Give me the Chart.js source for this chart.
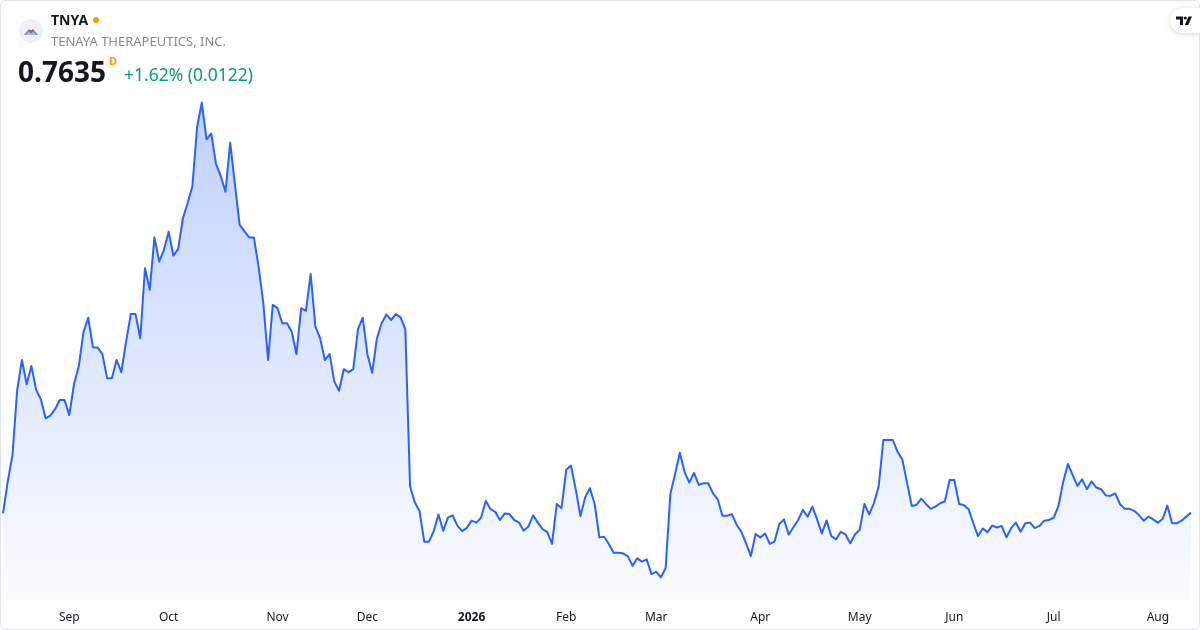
<!DOCTYPE html>
<html>
<head>
<meta charset="utf-8">
<script src="https://cdn.jsdelivr.net/npm/chart.js@4.4.1/dist/chart.umd.min.js"></script>
<style>
  html, body { margin: 0; padding: 0; background: #fff; }
  body { width: 1200px; height: 630px; position: relative; overflow: hidden; font-family: "Noto Sans", "Open Sans", sans-serif; }
  #chart { position: absolute; left: 0; top: 0; }
  .frame { position: absolute; left: 0; top: 0; width: 1198px; height: 628px; border: 1px solid #e0e3eb; border-radius: 6px; pointer-events: none; }
  .logo { position: absolute; left: 19px; top: 19px; width: 24px; height: 24px; border-radius: 50%; background: #eef1f8; }
  .ticker { position: absolute; left: 51px; top: 10px; font-size: 14px; font-weight: 700; color: #131722; }
  .dot { position: absolute; left: 93px; top: 17px; width: 6px; height: 6px; border-radius: 50%; background: #ff9800; }
  .name { position: absolute; left: 51px; top: 32px; font-size: 13px; color: #868993; }
  .price { position: absolute; left: 18px; top: 52px; font-size: 28px; font-weight: 700; color: #131722; }
  .flag { position: absolute; left: 109px; top: 53px; font-size: 11px; font-weight: 700; color: #ff9800; }
  .change { position: absolute; left: 124px; top: 62px; font-size: 17.5px; color: #089981; }
  .tv { position: absolute; right: 0; top: 8px; width: 30px; height: 25px; background: #fff; border-radius: 13px 0 0 13px; box-shadow: 0 1px 5px rgba(0,0,0,0.18); }
</style>
</head>
<body>
<canvas id="chart" width="1200" height="630"></canvas>
<div class="frame"></div>
<div class="logo">
  <svg width="24" height="24" viewBox="0 0 24 24">
    <path d="M5 16 L10 10 L12 12 L14 10 L19 16 Z" fill="#5b8fd6"/>
    <path d="M7 16 L10 12.5 L12 14.5 L14 12.5 L17 16 Z" fill="#9cc0ea"/>
    <path d="M12 14.5 L10 12 C9.4 11.2 10.2 10.3 11 10.8 L12 11.5 L13 10.8 C13.8 10.3 14.6 11.2 14 12 Z" fill="#e0443a"/>
  </svg>
</div>
<div class="ticker">TNYA</div>
<div class="dot"></div>
<div class="name">TENAYA THERAPEUTICS, INC.</div>
<div class="price">0.7635</div>
<div class="flag">D</div>
<div class="change">+1.62% (0.0122)</div>
<div class="tv">
  <svg width="30" height="25" viewBox="0 0 30 25">
    <path d="M6 8.5 H13 V17 H10 V11.5 H6 Z" fill="#131722"/>
    <circle cx="15.3" cy="10" r="1.6" fill="#131722"/>
    <path d="M18.5 8.5 H22 L18.2 17 H14.8 Z" fill="#131722"/>
  </svg>
</div>
<script>
// Daily closes, Aug 12 2025 to Aug 12 2026 (one value per trading day)
const closes = [
  0.761, 0.858, 0.939, 1.138, 1.229, 1.155, 1.211, 1.138, 1.109, 1.051,
  1.059, 1.079, 1.107, 1.107, 1.061, 1.155, 1.209, 1.314, 1.358, 1.268,
  1.267, 1.247, 1.173, 1.173, 1.229, 1.192, 1.285, 1.369, 1.369, 1.295,
  1.509, 1.443, 1.603, 1.529, 1.565, 1.620, 1.547, 1.567, 1.661, 1.707,
  1.758, 1.939, 2.014, 1.902, 1.920, 1.827, 1.790, 1.742, 1.892, 1.765,
  1.641, 1.622, 1.603, 1.603, 1.514, 1.402, 1.229, 1.397, 1.387, 1.341,
  1.341, 1.315, 1.247, 1.387, 1.379, 1.491, 1.331, 1.295, 1.229, 1.247,
  1.163, 1.135, 1.201, 1.192, 1.201, 1.323, 1.358, 1.246, 1.190, 1.295,
  1.341, 1.368, 1.351, 1.369, 1.359, 1.323, 0.844, 0.795, 0.768, 0.675,
  0.675, 0.707, 0.758, 0.708, 0.748, 0.755, 0.724, 0.707, 0.717, 0.739,
  0.733, 0.748, 0.799, 0.774, 0.766, 0.741, 0.761, 0.759, 0.741, 0.734,
  0.708, 0.721, 0.755, 0.733, 0.713, 0.704, 0.668, 0.790, 0.777, 0.894,
  0.907, 0.835, 0.753, 0.810, 0.838, 0.790, 0.688, 0.690, 0.668, 0.641,
  0.641, 0.639, 0.631, 0.601, 0.624, 0.614, 0.621, 0.576, 0.583, 0.566,
  0.594, 0.820, 0.881, 0.946, 0.888, 0.855, 0.885, 0.848, 0.853, 0.853,
  0.822, 0.804, 0.754, 0.754, 0.759, 0.726, 0.705, 0.670, 0.631, 0.698,
  0.688, 0.700, 0.668, 0.675, 0.728, 0.743, 0.697, 0.719, 0.741, 0.772,
  0.751, 0.782, 0.743, 0.700, 0.739, 0.692, 0.682, 0.705, 0.697, 0.670,
  0.697, 0.711, 0.790, 0.758, 0.792, 0.843, 0.985, 0.985, 0.985, 0.949,
  0.926, 0.855, 0.784, 0.787, 0.806, 0.790, 0.775, 0.782, 0.792, 0.798,
  0.863, 0.863, 0.790, 0.787, 0.774, 0.731, 0.692, 0.715, 0.704, 0.724,
  0.718, 0.723, 0.688, 0.716, 0.733, 0.705, 0.731, 0.733, 0.716, 0.723,
  0.739, 0.741, 0.748, 0.784, 0.858, 0.912, 0.878, 0.845, 0.865, 0.835,
  0.859, 0.840, 0.835, 0.816, 0.815, 0.822, 0.789, 0.775, 0.775, 0.769,
  0.756, 0.739, 0.751, 0.743, 0.733, 0.744, 0.785, 0.731, 0.731, 0.739,
  0.7513, 0.7635
];

// Month tick labels and the trading-day index where each month starts
const monthLabels = ['Sep', 'Oct', 'Nov', 'Dec', '2026', 'Feb', 'Mar', 'Apr', 'May', 'Jun', 'Jul', 'Aug'];
const monthStarts = [14, 35, 58, 77, 99, 119, 138, 160, 181, 201, 222, 244];

const labels = closes.map(function(v, i) {
    const m = monthStarts.indexOf(i);
    return m >= 0 ? monthLabels[m] : '';
});

const ctx = document.getElementById('chart').getContext('2d');

new Chart(ctx, {
    type: 'line',
    data: {
        labels: labels,
        datasets: [{
            data: closes,
            borderColor: '#2962FF',
            borderWidth: 2,
            borderJoinStyle: 'round',
            pointRadius: 0,
            tension: 0,
            fill: 'start',
            backgroundColor: function(context) {
                const area = context.chart.chartArea;
                if (!area) return 'rgba(41,98,255,0.15)';
                const g = context.chart.ctx.createLinearGradient(0, area.top, 0, area.bottom);
                g.addColorStop(0, 'rgba(41,98,255,0.30)');
                g.addColorStop(1, 'rgba(41,98,255,0.02)');
                return g;
            }
        }]
    },
    options: {
        responsive: false,
        animation: false,
        layout: { padding: { left: 3, right: 9, top: 90, bottom: 0 } },
        plugins: {
            legend: { display: false },
            tooltip: { enabled: false }
        },
        scales: {
            x: {
                grid: { display: false, drawTicks: false },
                border: { display: false },
                afterFit: function(scale) {
                    // fixed axis band, no extra side padding from the tick labels
                    scale.height = 30;
                    scale.paddingLeft = 0;
                    scale.paddingRight = 0;
                },
                ticks: {
                    autoSkip: false,
                    maxRotation: 0,
                    padding: 10,
                    color: '#131722',
                    font: function(c) {
                        const bold = c.tick && c.tick.label === '2026';
                        return { family: 'Noto Sans', size: 12, weight: bold ? 'bold' : 'normal' };
                    }
                }
            },
            y: {
                display: false,
                min: 0.497,
                max: 2.0525
            }
        }
    }
});
</script>
</body>
</html>
